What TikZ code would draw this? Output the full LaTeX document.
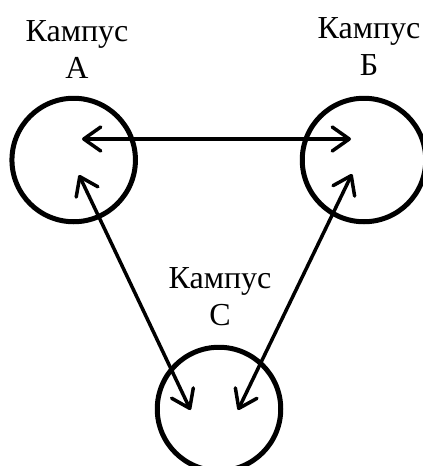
\documentclass[tikz,border=0pt]{standalone}
\usepackage{fontspec}
\setmainfont{Liberation Serif}
\usetikzlibrary{arrows.meta}
\tikzset{
  campus/.style={circle,draw,line width=5pt,minimum size=123.5pt,inner sep=0pt},
  lbl/.style={align=center,font=\fontsize{32}{37}\selectfont,inner sep=0pt},
  tipb/.tip={Straight Barb[length=17pt,width=24pt,line width=3.5pt,round]},
  link/.style={line width=3.5pt,tipb-tipb}
}
\begin{document}
\begin{tikzpicture}[x=1pt,y=-1pt]
\useasboundingbox (0,0) rectangle (423,466);
\fill[white] (0,0) rectangle (423,466);
\node[campus] (a) at (73.7,160) {};
\node[campus] (b) at (364,160) {};
\node[campus] (c) at (219,409) {};
\coordinate (a1) at (82,139);
\coordinate (b1) at (351,139);
\coordinate (a2) at (79,175);
\coordinate (c2) at (190.5,410);
\coordinate (b3) at (352,174);
\coordinate (c3) at (238,410);
\node[lbl] (la) at (77,49.5) {Кампус\\А};
\node[lbl] (lb) at (369,46.5) {Кампус\\Б};
\node[lbl] (lc) at (220,296.5) {Кампус\\С};
\draw[link] (a1) -- (b1);
\draw[link] (a2) -- (c2);
\draw[link] (b3) -- (c3);
\end{tikzpicture}
\end{document}
